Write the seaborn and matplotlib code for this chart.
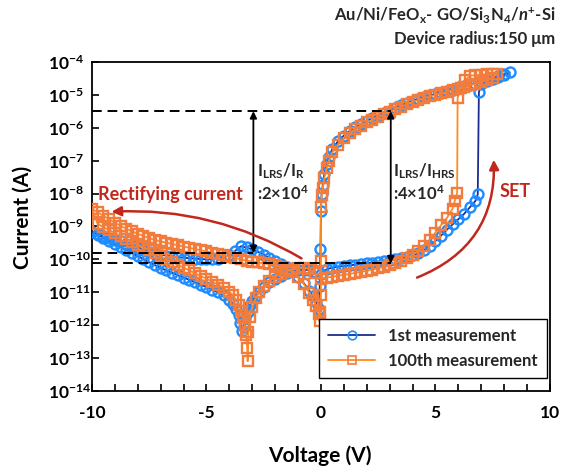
import matplotlib
matplotlib.use("Agg")
import matplotlib.pyplot as plt
import numpy as np
import pandas as pd
import seaborn as sns
from matplotlib.ticker import MultipleLocator, NullLocator, FixedLocator

# ---------------- data ----------------
# 1st measurement
B_HRS_V = [0.0, 0.25, 0.5, 0.75, 1.0, 1.25, 1.5, 1.75, 2.0, 2.25, 2.5, 2.75, 3.0, 3.25,
           3.5, 3.75, 4.0, 4.25, 4.5, 4.75, 5.0, 5.25, 5.5, 5.75, 6.0, 6.25, 6.5, 6.75, 6.85]
B_HRS_I = [3.5e-11, 5.0e-11, 5.6e-11, 6.0e-11, 6.3e-11, 6.6e-11, 6.9e-11, 7.2e-11, 7.6e-11,
           8.0e-11, 8.4e-11, 8.9e-11, 9.4e-11, 1.0e-10, 1.08e-10, 1.18e-10, 1.32e-10, 1.55e-10,
           1.9e-10, 2.6e-10, 3.6e-10, 5.3e-10, 8.0e-10, 1.15e-9, 1.65e-9, 2.4e-9, 3.8e-9,
           6.0e-9, 9.5e-9]
B_LRS_V = [6.9, 7.0, 7.25, 7.5, 7.75, 8.0, 8.25,
           8.0, 7.75, 7.5, 7.25, 7.0, 6.75, 6.5, 6.25, 6.0, 5.75, 5.5, 5.25, 5.0, 4.75, 4.5,
           4.25, 4.0, 3.75, 3.5, 3.25, 3.0, 2.75, 2.5, 2.25, 2.0, 1.75, 1.5, 1.25, 1.0, 0.75,
           0.5, 0.35, 0.25, 0.15, 0.08, 0.03]
B_LRS_I = [1.2e-5, 2.2e-5, 2.8e-5, 3.3e-5, 3.8e-5, 4.3e-5, 4.8e-5,
           3.9e-5, 3.4e-5, 3.0e-5, 2.7e-5, 2.4e-5, 2.2e-5, 2.0e-5, 1.8e-5, 1.6e-5, 1.45e-5,
           1.3e-5, 1.18e-5, 1.07e-5, 9.6e-6, 8.5e-6, 7.5e-6, 6.5e-6, 5.6e-6, 4.8e-6, 4.0e-6,
           3.3e-6, 2.8e-6, 2.35e-6, 1.95e-6, 1.6e-6, 1.3e-6, 1.05e-6, 8.0e-7, 5.8e-7, 3.9e-7,
           2.3e-7, 1.3e-7, 8.0e-8, 4.0e-8, 1.8e-8, 1.0e-8]
B_NEG_OUT_V = [0.0, -0.02, -0.05, -0.1, -0.2, -0.35, -0.5, -0.75, -1.0, -1.25, -1.5, -1.75,
               -2.0, -2.25, -2.5, -2.75, -3.0, -3.25, -3.5, -3.75, -4.0, -4.25, -4.5, -4.75,
               -5.0, -5.25, -5.5, -5.75, -6.0, -6.25, -6.5, -6.75, -7.0, -7.25, -7.5, -7.75,
               -8.0, -8.25, -8.5, -8.75, -9.0, -9.25, -9.5, -9.75, -10.0]
B_NEG_OUT_I = [3.0e-9, 2.0e-10, 1.5e-11, 3.2e-12, 5.0e-12, 7.5e-12, 1.1e-11, 1.9e-11, 3.0e-11,
               4.3e-11, 5.8e-11, 7.2e-11, 8.8e-11, 1.1e-10, 1.4e-10, 1.7e-10, 2.0e-10, 2.3e-10,
               2.5e-10, 1.8e-10, 1.35e-10, 1.15e-10, 1.05e-10, 1.0e-10, 1.0e-10, 1.02e-10,
               1.05e-10, 1.08e-10, 1.12e-10, 1.17e-10, 1.23e-10, 1.3e-10, 1.4e-10, 1.55e-10,
               1.7e-10, 1.95e-10, 2.2e-10, 2.6e-10, 3.0e-10, 3.5e-10, 4.0e-10, 4.6e-10,
               5.3e-10, 6.1e-10, 7.0e-10]
B_NEG_BACK_V = [-9.75, -9.5, -9.25, -9.0, -8.75, -8.5, -8.25, -8.0, -7.75, -7.5, -7.25, -7.0,
                -6.75, -6.5, -6.25, -6.0, -5.75, -5.5, -5.25, -5.0, -4.75, -4.5, -4.25, -4.0,
                -3.85, -3.7, -3.6, -3.52, -3.45, -3.38, -3.3, -3.2, -3.1, -3.0, -2.85, -2.7,
                -2.5, -2.25, -2.0, -1.75, -1.5, -1.25, -1.0, -0.75, -0.5, -0.25]
B_NEG_BACK_I = [5.6e-10, 4.5e-10, 3.6e-10, 2.9e-10, 2.35e-10, 1.9e-10, 1.55e-10, 1.25e-10,
                1.0e-10, 8.2e-11, 6.7e-11, 5.5e-11, 4.6e-11, 3.9e-11, 3.3e-11, 2.8e-11, 2.4e-11,
                2.0e-11, 1.7e-11, 1.45e-11, 1.2e-11, 1.0e-11, 8.0e-12, 6.0e-12, 4.5e-12, 3.0e-12,
                2.0e-12, 1.2e-12, 6.5e-13, 9.0e-13, 1.6e-12, 2.6e-12, 4.0e-12, 5.5e-12, 7.5e-12,
                1.0e-11, 1.4e-11, 2.0e-11, 2.6e-11, 3.2e-11, 3.8e-11, 4.3e-11, 4.7e-11, 4.9e-11,
                4.7e-11, 4.0e-11]

# 100th measurement
O_HRS_V = [0.0, 0.25, 0.5, 0.75, 1.0, 1.25, 1.5, 1.75, 2.0, 2.25, 2.5, 2.75, 3.0, 3.25,
           3.5, 3.75, 4.0, 4.25, 4.5, 4.75, 5.0, 5.25, 5.5, 5.75, 5.85, 5.95]
O_HRS_I = [2.5e-11, 2.8e-11, 3.0e-11, 3.2e-11, 3.4e-11, 3.6e-11, 3.9e-11, 4.2e-11, 4.5e-11,
           4.9e-11, 5.4e-11, 6.0e-11, 6.8e-11, 7.8e-11, 9.0e-11, 1.1e-10, 1.35e-10, 1.8e-10,
           2.6e-10, 4.0e-10, 6.5e-10, 1.1e-9, 1.8e-9, 3.5e-9, 6.0e-9, 1.05e-8]
O_LRS_V = [5.97, 6.1, 6.3, 6.5, 6.75, 7.0, 7.25, 7.5, 7.7,
           7.5, 7.25, 7.0, 6.75, 6.5, 6.25, 6.0, 5.75, 5.5, 5.25, 5.0, 4.75, 4.5, 4.25, 4.0,
           3.75, 3.5, 3.25, 3.0, 2.75, 2.5, 2.25, 2.0, 1.75, 1.5, 1.25, 1.0, 0.75, 0.5, 0.35,
           0.25, 0.15, 0.08, 0.03]
O_LRS_I = [8.0e-6, 1.6e-5, 2.8e-5, 3.8e-5, 4.0e-5, 4.1e-5, 4.2e-5, 4.3e-5, 4.4e-5,
           3.3e-5, 2.8e-5, 2.5e-5, 2.2e-5, 1.95e-5, 1.75e-5, 1.55e-5, 1.4e-5, 1.25e-5, 1.12e-5,
           1.0e-5, 9.0e-6, 8.0e-6, 7.0e-6, 6.1e-6, 5.2e-6, 4.4e-6, 3.7e-6, 3.1e-6, 2.6e-6,
           2.15e-6, 1.75e-6, 1.45e-6, 1.15e-6, 9.0e-7, 6.8e-7, 4.8e-7, 3.1e-7, 1.8e-7, 1.0e-7,
           6.0e-8, 3.0e-8, 1.5e-8, 9.0e-9]
O_NEG_OUT_V = [0.0, 0.0, 0.0, -0.03, -0.06, -0.1, -0.2, -0.35, -0.5, -0.75, -1.0, -1.25,
               -1.5, -1.75, -2.0, -2.25, -2.5, -2.75, -3.0, -3.25, -3.5, -3.75, -4.0, -4.25,
               -4.5, -4.75, -5.0, -5.25, -5.5, -5.75, -6.0, -6.25, -6.5, -6.75, -7.0, -7.25,
               -7.5, -7.75, -8.0, -8.25, -8.5, -8.75, -9.0, -9.25, -9.5, -9.75, -10.0]
O_NEG_OUT_I = [4.0e-9, 8.7e-11, 8.0e-12, 2.5e-12, 1.3e-12, 2.2e-12, 3.8e-12, 6.0e-12, 9.5e-12,
               1.8e-11, 3.0e-11, 4.2e-11, 5.2e-11, 6.0e-11, 6.6e-11, 7.1e-11, 7.6e-11, 8.1e-11,
               8.6e-11, 9.2e-11, 1.0e-10, 1.1e-10, 1.22e-10, 1.33e-10, 1.45e-10, 1.6e-10,
               1.75e-10, 1.9e-10, 2.05e-10, 2.25e-10, 2.45e-10, 2.7e-10, 2.95e-10, 3.2e-10,
               3.5e-10, 3.9e-10, 4.4e-10, 5.1e-10, 6.0e-10, 7.1e-10, 8.5e-10, 1.05e-9, 1.3e-9,
               1.65e-9, 2.1e-9, 2.7e-9, 3.4e-9]
O_NEG_BACK_V = [-9.75, -9.5, -9.25, -9.0, -8.75, -8.5, -8.25, -8.0, -7.75, -7.5, -7.25, -7.0,
                -6.75, -6.5, -6.25, -6.0, -5.75, -5.5, -5.25, -5.0, -4.75, -4.5, -4.25, -4.0,
                -3.85, -3.7, -3.58, -3.48, -3.4, -3.33, -3.27, -3.22, -3.2, -3.17, -3.1, -3.0,
                -2.85, -2.7, -2.5, -2.25, -2.0, -1.75, -1.5, -1.25, -1.0, -0.75, -0.5, -0.25]
O_NEG_BACK_I = [1.2e-9, 9.5e-10, 7.8e-10, 6.3e-10, 5.1e-10, 4.2e-10, 3.4e-10, 2.8e-10, 2.3e-10,
                1.9e-10, 1.55e-10, 1.25e-10, 1.0e-10, 8.3e-11, 6.8e-11, 5.6e-11, 4.6e-11,
                3.8e-11, 3.1e-11, 2.6e-11, 2.1e-11, 1.7e-11, 1.35e-11, 1.05e-11, 8.0e-12,
                5.8e-12, 4.0e-12, 2.7e-12, 1.7e-12, 1.0e-12, 5.0e-13, 2.0e-13, 8.0e-14, 6.0e-13,
                1.8e-12, 3.5e-12, 6.5e-12, 1.0e-11, 1.5e-11, 2.2e-11, 3.0e-11, 3.7e-11, 4.4e-11,
                5.0e-11, 5.4e-11, 5.6e-11, 5.0e-11, 3.8e-11]

SERIES_LABELS = ["1st measurement", "100th measurement"]

# reference levels / annotation anchors
I_LRS_LEVEL = 3.2e-6
I_R_LEVEL = 1.55e-10
I_HRS_LEVEL = 7.5e-11
V_READ_NEG = -2.95
V_READ_POS = 3.05

X_TICKS = [-10, -5, 0, 5, 10]
X_TICK_LABELS = ["-10", "-5", "0", "5", "10"]
Y_TICKS = [1e-14, 1e-13, 1e-12, 1e-11, 1e-10, 1e-9, 1e-8, 1e-7, 1e-6, 1e-5, 1e-4]
Y_TICK_LABELS = ["10$^{-14}$", "10$^{-13}$", "10$^{-12}$", "10$^{-11}$", "10$^{-10}$",
                 "10$^{-9}$", "10$^{-8}$", "10$^{-7}$", "10$^{-6}$", "10$^{-5}$", "10$^{-4}$"]

# ---------------- style ----------------
sns.set_theme(style="ticks")
plt.rcParams["font.family"] = ["Lato", "DejaVu Sans"]
plt.rcParams["font.weight"] = "bold"
plt.rcParams["mathtext.fontset"] = "custom"
plt.rcParams["mathtext.rm"] = "Lato:bold"
plt.rcParams["mathtext.it"] = "Lato:italic:bold"
plt.rcParams["mathtext.bf"] = "Lato:bold"
plt.rcParams["mathtext.default"] = "rm"
plt.rcParams["axes.unicode_minus"] = False

NAVY = "#1c2d8f"
BLUE_MK = "#1e8cff"
ORANGE_LN = "#ff8a1e"
ORANGE_MK = "#f27c3e"
RED = "#c0281e"

fig = plt.figure(figsize=(5.66, 4.66), dpi=100)
ax = fig.add_axes([0.1625, 0.161, 0.809, 0.706])

blue = pd.DataFrame({
    "V": B_HRS_V + B_LRS_V + B_NEG_OUT_V + B_NEG_BACK_V,
    "I": B_HRS_I + B_LRS_I + B_NEG_OUT_I + B_NEG_BACK_I,
})
orange = pd.DataFrame({
    "V": O_HRS_V + O_LRS_V + O_NEG_OUT_V + O_NEG_BACK_V,
    "I": O_HRS_I + O_LRS_I + O_NEG_OUT_I + O_NEG_BACK_I,
})

sns.lineplot(data=blue, x="V", y="I", sort=False, estimator=None, ax=ax,
             color=NAVY, lw=1.3, marker="o", markersize=7.2, markerfacecolor="none",
             markeredgecolor=BLUE_MK, markeredgewidth=1.7, label=SERIES_LABELS[0], zorder=3)
sns.lineplot(data=orange, x="V", y="I", sort=False, estimator=None, ax=ax,
             color=ORANGE_LN, lw=1.3, marker="s", markersize=6.6, markerfacecolor="none",
             markeredgecolor=ORANGE_MK, markeredgewidth=1.7, label=SERIES_LABELS[1], zorder=4)

ax.set_yscale("log")
ax.set_xlim(-10, 10)
ax.set_ylim(1e-14, 1e-4)

# dashed reference lines
dash = (0, (5, 3))
ax.plot([-10, V_READ_POS], [I_LRS_LEVEL, I_LRS_LEVEL], color="black", lw=1.4, ls=dash, zorder=5)
ax.plot([-10, V_READ_NEG], [I_R_LEVEL, I_R_LEVEL], color="black", lw=1.4, ls=dash, zorder=5)
ax.plot([-10, V_READ_POS], [I_HRS_LEVEL, I_HRS_LEVEL], color="black", lw=1.4, ls=dash, zorder=5)

# double-headed arrows
for v, lo in [(V_READ_NEG, I_R_LEVEL), (V_READ_POS, I_HRS_LEVEL)]:
    ax.annotate("", xy=(v, I_LRS_LEVEL), xytext=(v, lo),
                arrowprops=dict(arrowstyle="<|-|>", color="black", lw=1.3,
                                mutation_scale=10, shrinkA=0, shrinkB=0), zorder=6)

ax.text(-2.78, 3.3e-8, "I$_{\\mathrm{LRS}}$/I$_{\\mathrm{R}}$", fontsize=12, fontweight="bold",
        ha="left", va="baseline", zorder=7)
ax.text(-2.78, 6.6e-9, ":2\u00d710$^{4}$", fontsize=12, fontweight="bold",
        ha="left", va="baseline", zorder=7)
ax.text(3.17, 3.3e-8, "I$_{\\mathrm{LRS}}$/I$_{\\mathrm{HRS}}$", fontsize=12, fontweight="bold",
        ha="left", va="baseline", zorder=7)
ax.text(3.17, 6.6e-9, ":4\u00d710$^{4}$", fontsize=12, fontweight="bold",
        ha="left", va="baseline", zorder=7)

# red annotations
ax.text(-9.74, 6.2e-9, "Rectifying current", color=RED, fontsize=13, fontweight="bold",
        ha="left", va="baseline", zorder=7)
ax.annotate("", xy=(-9.15, 2.8e-9), xytext=(-0.85, 1.07e-10),
            arrowprops=dict(arrowstyle="-|>", color=RED, lw=1.8, mutation_scale=14,
                            connectionstyle="arc3,rad=0.15", shrinkA=0, shrinkB=0), zorder=7)
ax.text(7.8, 8.1e-9, "SET", color=RED, fontsize=13, fontweight="bold",
        ha="left", va="baseline", zorder=7)
ax.annotate("", xy=(7.55, 1.07e-7), xytext=(4.2, 2.8e-11),
            arrowprops=dict(arrowstyle="-|>", color=RED, lw=1.8, mutation_scale=14,
                            connectionstyle="arc3,rad=0.35", shrinkA=0, shrinkB=0), zorder=7)

# axes styling
ax.xaxis.set_major_locator(FixedLocator(X_TICKS))
ax.set_xticklabels(X_TICK_LABELS)
ax.xaxis.set_minor_locator(MultipleLocator(1))
ax.yaxis.set_major_locator(FixedLocator(Y_TICKS))
ax.set_yticklabels(Y_TICK_LABELS)
ax.yaxis.set_minor_locator(NullLocator())
ax.tick_params(axis="x", which="both", direction="in", length=5, width=1.2, pad=10,
               labelsize=12.5, colors="black")
ax.tick_params(axis="y", which="both", direction="in", length=5, width=1.2, pad=31.5,
               labelsize=12.5, colors="black")
for lbl in ax.get_yticklabels():
    lbl.set_horizontalalignment("left")
    lbl.set_fontweight("bold")
for lbl in ax.get_xticklabels():
    lbl.set_fontweight("bold")
for s in ax.spines.values():
    s.set_visible(True)
    s.set_color("black")
    s.set_linewidth(1.3)

ax.set_xlabel("Voltage (V)", fontsize=15, fontweight="bold", color="black")
ax.set_ylabel("Current (A)", fontsize=15, fontweight="bold", color="black")
ax.xaxis.set_label_coords(0.498, -0.165)
ax.yaxis.set_label_coords(-0.13, 0.526)

leg = ax.legend(loc="lower right", bbox_to_anchor=(0.994, 0.04), frameon=True, fancybox=False,
                edgecolor="black", framealpha=1, fontsize=12, handlelength=2.8,
                borderpad=0.55, labelspacing=0.5, handletextpad=0.8, borderaxespad=0)
leg.get_frame().set_linewidth(1.0)
for h in leg.legend_handles:
    h.set_markeredgewidth(1.2)
    h.set_markersize(6.2)
for t in leg.get_texts():
    t.set_fontweight("bold")

fig.text(0.981, 0.957, "Au/Ni/FeO$_{x}$- GO/Si$_{3}$N$_{4}$/$\\mathit{n}^{+}$-Si", fontsize=12,
         fontweight="bold", ha="right", va="baseline")
fig.text(0.981, 0.905, "Device radius:150 \u03bcm", fontsize=12, fontweight="bold",
         ha="right", va="baseline")

fig.savefig("out.png", dpi=100)
